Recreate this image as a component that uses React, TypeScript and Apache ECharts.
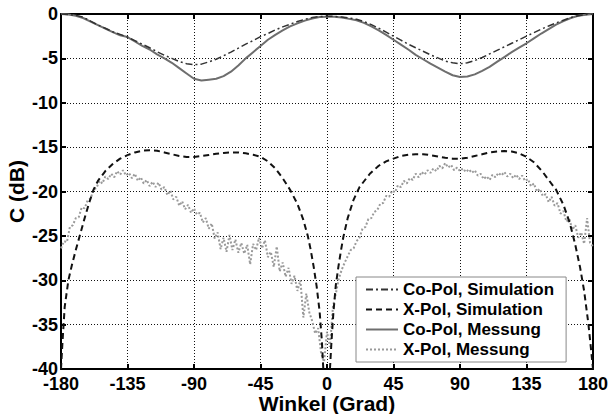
import React, { useEffect, useRef } from "react";
import * as echarts from "echarts";

// Axis ranges / ticks
const X_MIN = -180;
const X_MAX = 180;
const X_INTERVAL = 45;
const Y_MIN = -40;
const Y_MAX = 0;
const Y_INTERVAL = 5;

// Co-Pol series sampled every 5 degrees from -180 to 180
const COPOL_START = -180;
const COPOL_STEP = 5;
const coPolSimulation = [
  0, -0.05, -0.15, -0.35, -0.8, -1.25, -1.6, -2.0, -2.3, -2.6,
  -3.0, -3.4, -3.8, -4.25, -4.65, -5.0, -5.35, -5.6, -5.7, -5.65,
  -5.4, -5.1, -4.7, -4.3, -3.85, -3.4, -3.0, -2.55, -2.2, -1.8,
  -1.45, -1.15, -0.85, -0.6, -0.4, -0.28, -0.25,
  -0.27, -0.35, -0.45, -0.6, -0.85, -1.2, -1.6, -2.05, -2.5, -2.95,
  -3.4, -3.8, -4.2, -4.6, -4.95, -5.3, -5.5, -5.6, -5.5, -5.25,
  -4.9, -4.5, -4.1, -3.7, -3.3, -2.9, -2.5, -2.1, -1.7, -1.35,
  -1.0, -0.7, -0.4, -0.2, -0.05, 0,
];
const coPolMessung = [
  0, -0.05, -0.2, -0.45, -0.85, -1.25, -1.65, -2.05, -2.4, -2.6,
  -3.1, -3.6, -4.0, -4.55, -5.0, -5.5, -6.1, -6.7, -7.3, -7.5,
  -7.4, -7.3, -7.0, -6.5, -5.8, -5.0, -4.3, -3.6, -2.9, -2.35,
  -1.85, -1.4, -1.05, -0.75, -0.5, -0.35, -0.3,
  -0.3, -0.4, -0.55, -0.7, -1.0, -1.4, -1.85, -2.35, -2.9, -3.45,
  -4.0, -4.6, -5.1, -5.6, -6.05, -6.5, -6.9, -7.1, -7.05, -6.8,
  -6.4, -5.95, -5.4, -4.85, -4.3, -3.8, -3.3, -2.75, -2.2, -1.7,
  -1.2, -0.8, -0.45, -0.2, -0.08, 0,
];

// X-Pol simulation: two lobes, [angle, dB]
const xPolSimLeft: [number, number][] = [
  [-180, -40], [-179, -37], [-177.5, -33], [-175, -30], [-172.5, -28.2],
  [-170, -26.6], [-167, -24.8], [-164, -23], [-161, -21.3], [-158, -19.8],
  [-155, -18.8], [-150, -17.7], [-145, -16.9], [-140, -16.3], [-135, -15.9],
  [-130, -15.6], [-125, -15.4], [-120, -15.35], [-115, -15.4], [-110, -15.6],
  [-105, -15.8], [-100, -16.0], [-95, -16.1], [-90, -16.1], [-85, -16.0],
  [-80, -15.9], [-75, -15.75], [-70, -15.65], [-65, -15.6], [-60, -15.6],
  [-55, -15.7], [-50, -15.85], [-45, -16.1], [-40, -16.6], [-35, -17.4],
  [-30, -18.5], [-25, -19.8], [-20, -21.4], [-16, -23.2], [-13, -25],
  [-11, -26.6], [-9, -28.5], [-7, -30.7], [-5, -33.5], [-3.5, -36.8],
  [-2.5, -40],
];
const xPolSimRight: [number, number][] = [
  [2, -40], [3, -37], [4.3, -33.7], [6, -30.5], [7.7, -28.5],
  [9.5, -26.6], [11.1, -25.1], [14, -23], [17.8, -21], [22, -19.5],
  [29, -18], [35, -17.1], [40, -16.6], [45, -16.3], [50, -16.0],
  [55, -15.85], [60, -15.8], [65, -15.8], [70, -15.9], [75, -16.05],
  [80, -16.2], [85, -16.3], [90, -16.3], [95, -16.2], [100, -16.0],
  [105, -15.8], [110, -15.6], [115, -15.5], [120, -15.45], [125, -15.5],
  [130, -15.7], [135, -16.1], [140, -16.7], [146, -17.8], [150, -18.7],
  [155, -19.8], [160, -21.5], [164.4, -23.6], [168, -26], [171.2, -28.5],
  [174, -31.2], [176.8, -34.8], [178.5, -37.5], [180, -40],
];

// X-Pol measurement sampled every 2 degrees from -180 to 180
const XPOL_MEAS_START = -180;
const XPOL_MEAS_STEP = 2;
const xPolMessung = [
  -26.4, -25.6, -25.7, -24.0, -23.8, -23.0, -22.9, -21.8, -21.9, -21.0,
  -20.8, -19.8, -19.6, -18.8, -19.1, -18.3, -18.6, -18.0, -18.4, -17.7,
  -18.1, -17.6, -18.2, -17.9, -18.5, -18.0, -18.8, -18.4, -19.1, -18.7,
  -19.4, -18.9, -19.5, -19.0, -19.8, -19.5, -20.4, -19.9, -20.9, -20.6,
  -21.6, -21.1, -22.0, -21.5, -22.4, -21.9, -22.6, -22.4, -23.5, -23.0,
  -24.2, -23.6, -25.3, -24.6, -26.5, -25.2, -26.8, -24.9, -26.6, -25.4,
  -26.9, -25.8, -27.0, -26.0, -28.2, -25.9, -26.6, -25.2, -26.4, -25.5,
  -27.4, -26.8, -28.5, -26.2, -29.0, -28.0, -29.6, -28.6, -30.4, -29.5,
  -31.2, -30.0, -34.2, -31.5, -33.6, -34.6, -36.0, -35.4, -38.2, -39.2,
  -35.8,
  -37.5, -33.0, -31.5, -29.8, -28.8, -28.0, -27.3, -26.6, -26.4, -25.6,
  -25.2, -24.2, -24.0, -23.1, -23.0, -22.3, -22.1, -21.4, -21.3, -20.5,
  -20.6, -19.9, -20.1, -19.3, -19.5, -18.8, -19.1, -18.5, -18.7, -18.0,
  -18.4, -17.8, -18.1, -17.6, -17.9, -17.4, -17.7, -17.1, -17.4, -16.8,
  -17.3, -17.0, -17.6, -17.3, -17.7, -17.4, -17.8, -17.5, -17.9, -17.6,
  -18.2, -18.0, -18.6, -18.3, -18.7, -18.1, -18.4, -17.9, -18.2, -17.8,
  -18.3, -18.0, -18.5, -18.1, -18.6, -18.2, -18.8, -18.6, -19.4, -19.1,
  -20.0, -19.7, -20.5, -20.3, -21.2, -20.6, -21.6, -21.3, -22.5, -22.2,
  -23.4, -23.1, -24.3, -23.8, -25.2, -24.6, -25.9, -23.0, -25.8, -26.2,
];

const LEGEND_NAMES = [
  "Co-Pol, Simulation",
  "X-Pol, Simulation",
  "Co-Pol, Messung",
  "X-Pol, Messung",
];

const FONT = "'Liberation Sans', Arial, Helvetica, sans-serif";

const withAngles = (vals: number[], start: number, step: number) =>
  vals.map((v, i) => [start + i * step, v]);

export default function App() {
  const ref = useRef<HTMLDivElement>(null);

  useEffect(() => {
    if (!ref.current) return;
    const chart = echarts.init(ref.current, undefined, { renderer: "svg" });

    const axisLine = { show: true, onZero: false, lineStyle: { color: "#000", width: 2 } };
    const axisTick = { show: true, inside: true, length: 5, lineStyle: { color: "#000", width: 2 } };
    const splitLine = { show: true, lineStyle: { color: "#111", width: 1, type: [1, 2] } };

    chart.setOption({
      animation: false,
      backgroundColor: "#fff",
      textStyle: { fontFamily: FONT },
      grid: { left: 61, right: 16, top: 14, bottom: 45, outerBoundsMode: "none", containLabel: false },
      legend: {
        data: LEGEND_NAMES,
        orient: "vertical",
        left: 356,
        top: 277,
        padding: [4, 12, 4, 9],
        itemWidth: 32,
        itemHeight: 14,
        itemGap: 3,
        backgroundColor: "#fff",
        borderColor: "#888",
        borderWidth: 1,
        borderRadius: 0,
        itemStyle: { opacity: 0 },
        textStyle: {
          fontFamily: FONT,
          fontWeight: "bold",
          fontSize: 17,
          lineHeight: 17,
          color: "#000",
        },
      },
      xAxis: [
        {
          type: "value",
          min: X_MIN,
          max: X_MAX,
          interval: X_INTERVAL,
          name: "Winkel (Grad)",
          nameLocation: "middle",
          nameGap: 25,
          nameMoveOverlap: false,
          nameTextStyle: { fontFamily: FONT, fontWeight: "bold", fontSize: 21, lineHeight: 18, color: "#000" },
          axisLine,
          axisTick,
          splitLine,
          axisLabel: {
            fontFamily: FONT,
            fontWeight: "bold",
            fontSize: 18,
            lineHeight: 12,
            color: "#000",
            margin: 9,
          },
        },
        {
          type: "value",
          position: "top",
          min: X_MIN,
          max: X_MAX,
          interval: X_INTERVAL,
          axisLine,
          axisTick,
          splitLine: { show: false },
          axisLabel: { show: false },
        },
      ],
      yAxis: [
        {
          type: "value",
          min: Y_MIN,
          max: Y_MAX,
          interval: Y_INTERVAL,
          name: "C (dB)",
          nameLocation: "middle",
          nameGap: 34,
          nameMoveOverlap: false,
          nameTextStyle: { fontFamily: FONT, fontWeight: "bold", fontSize: 21, lineHeight: 22, color: "#000" },
          axisLine,
          axisTick,
          splitLine,
          axisLabel: {
            fontFamily: FONT,
            fontWeight: "bold",
            fontSize: 18,
            lineHeight: 14,
            color: "#000",
            margin: 3,
          },
        },
        {
          type: "value",
          position: "right",
          min: Y_MIN,
          max: Y_MAX,
          interval: Y_INTERVAL,
          axisLine,
          axisTick,
          splitLine: { show: false },
          axisLabel: { show: false },
        },
      ],
      series: [
        {
          name: LEGEND_NAMES[3],
          type: "line",
          symbol: "none",
          data: withAngles(xPolMessung, XPOL_MEAS_START, XPOL_MEAS_STEP),
          lineStyle: { color: "#9a9a9a", width: 2, type: [2, 2] },
          itemStyle: { color: "#9a9a9a" },
          z: 2,
        },
        {
          name: LEGEND_NAMES[2],
          type: "line",
          symbol: "none",
          data: withAngles(coPolMessung, COPOL_START, COPOL_STEP),
          lineStyle: { color: "#6e6e6e", width: 2, type: "solid" },
          itemStyle: { color: "#6e6e6e" },
          z: 3,
        },
        {
          name: LEGEND_NAMES[0],
          type: "line",
          symbol: "none",
          data: withAngles(coPolSimulation, COPOL_START, COPOL_STEP),
          lineStyle: { color: "#333", width: 1.5, type: [7, 3, 2, 3] },
          itemStyle: { color: "#333" },
          z: 4,
        },
        {
          name: LEGEND_NAMES[1],
          type: "line",
          symbol: "none",
          data: xPolSimLeft,
          lineStyle: { color: "#111", width: 2, type: [6, 4] },
          itemStyle: { color: "#111" },
          z: 4,
        },
        {
          name: LEGEND_NAMES[1],
          type: "line",
          symbol: "none",
          data: xPolSimRight,
          lineStyle: { color: "#111", width: 2, type: [6, 4] },
          itemStyle: { color: "#111" },
          z: 4,
        },
      ],
    });

    return () => chart.dispose();
  }, []);

  return <div ref={ref} style={{ width: 609, height: 414, position: "absolute", left: 0, top: 0 }} />;
}
